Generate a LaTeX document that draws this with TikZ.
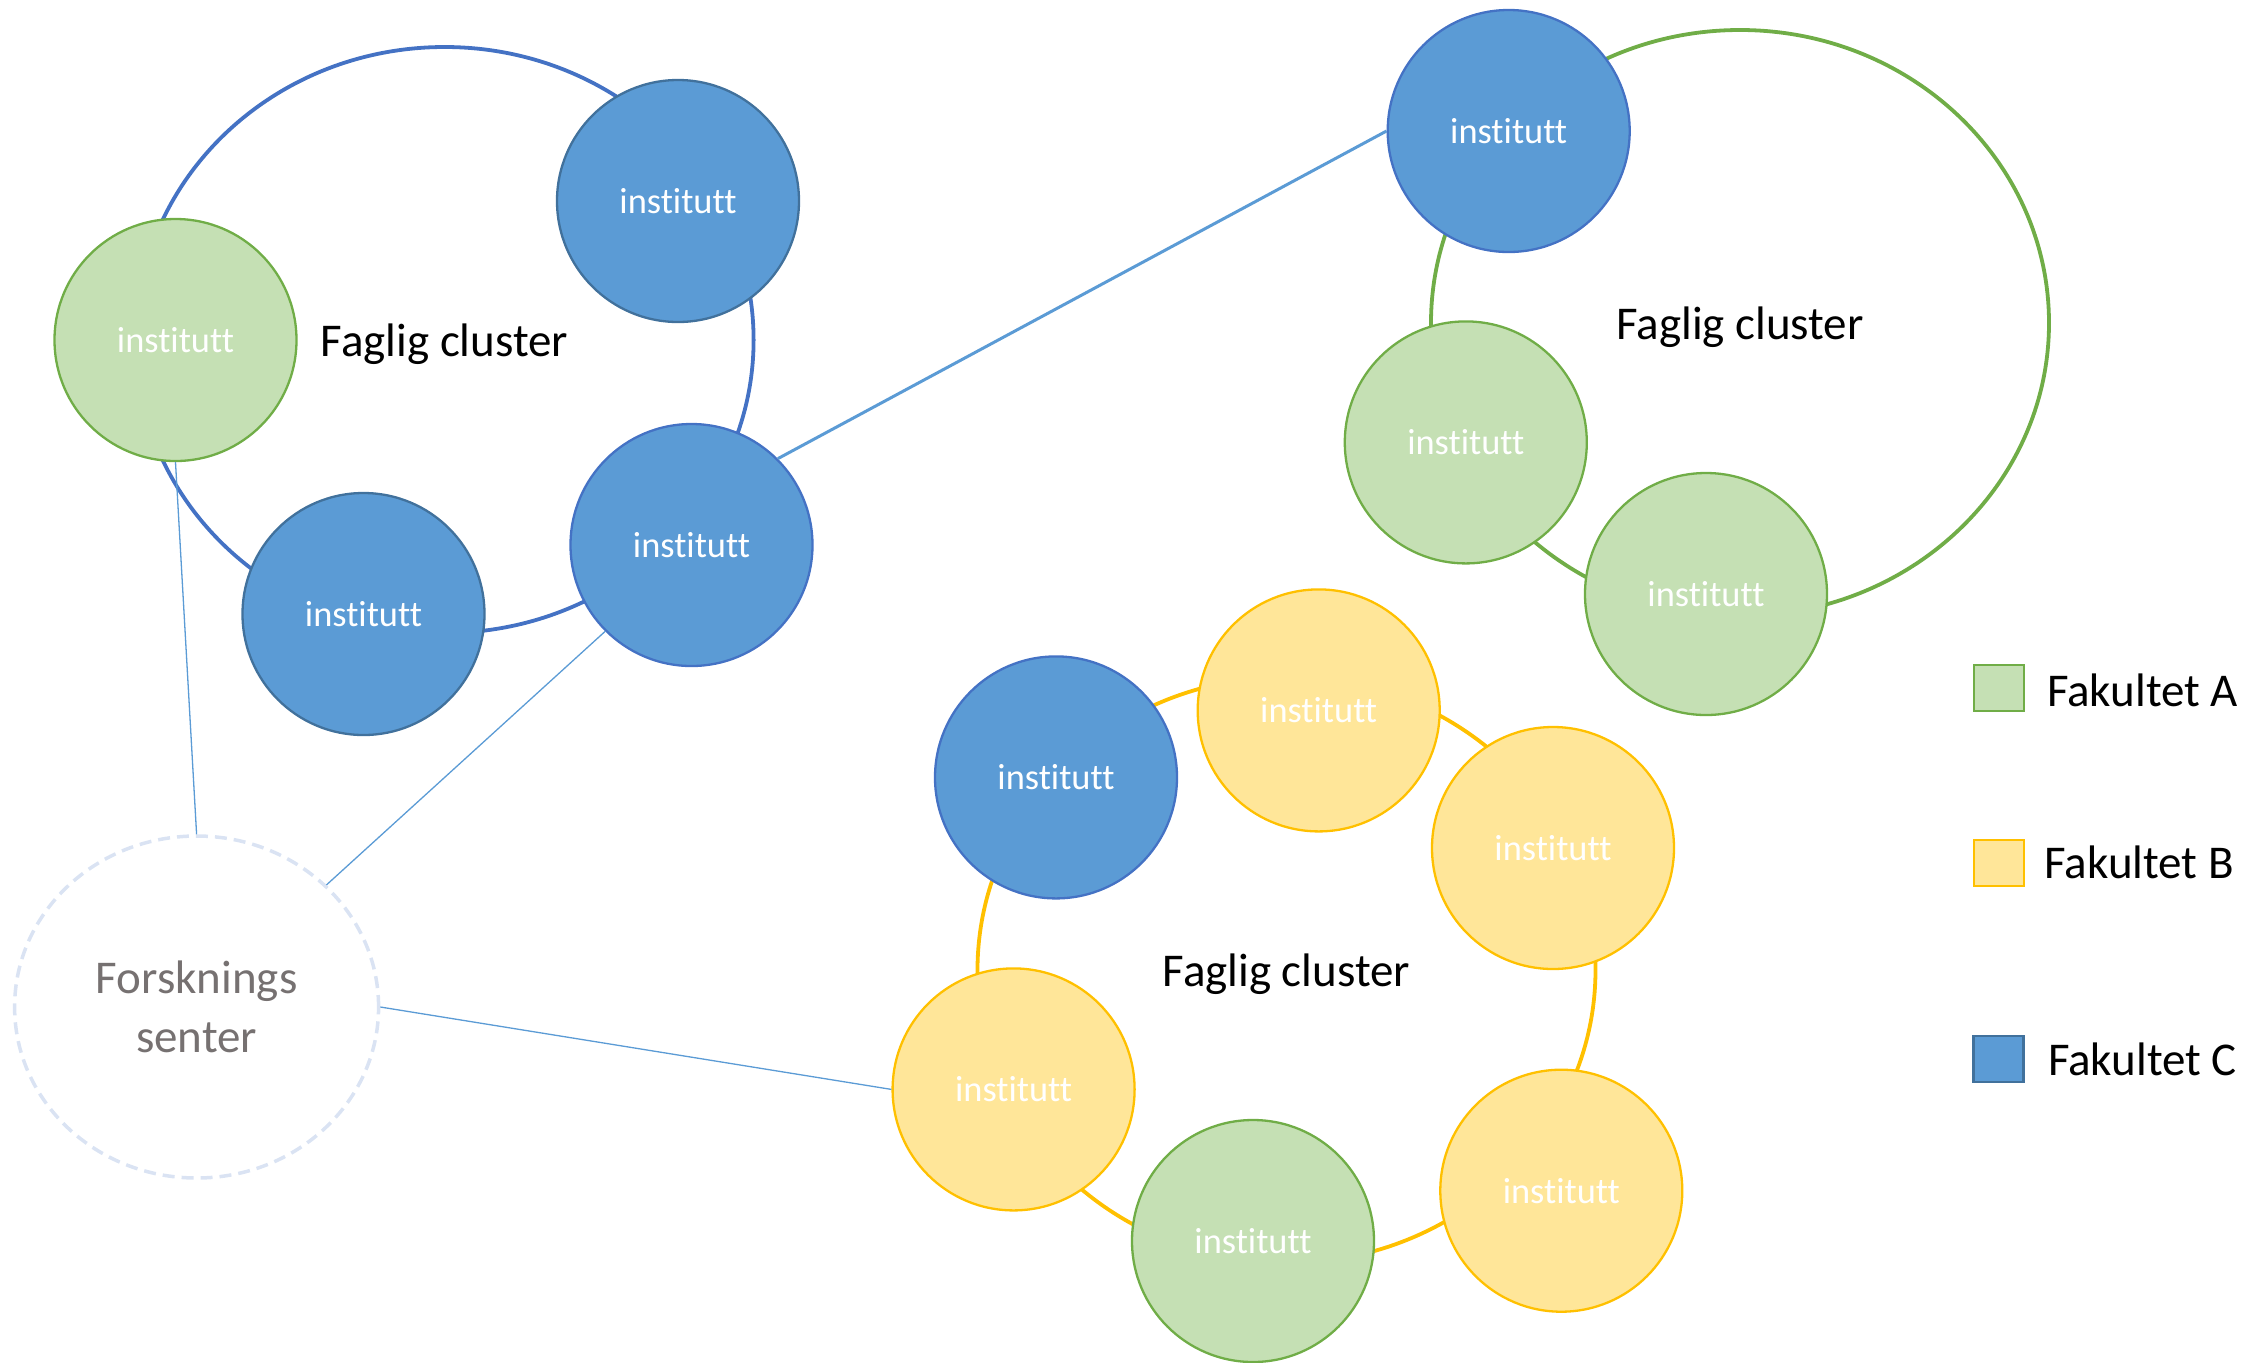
\documentclass[tikz,border=0pt]{standalone}
\usepackage{fontspec}
\setmainfont{Carlito}[Ligatures=NoCommon]
\usetikzlibrary{shapes.geometric}
\definecolor{cblue}{HTML}{5B9BD5}
\definecolor{cblueD}{HTML}{41719C}
\definecolor{cblueB}{HTML}{4472C4}
\definecolor{cgreen}{HTML}{C5E0B4}
\definecolor{cgreenD}{HTML}{70AD47}
\definecolor{cyellow}{HTML}{FFE699}
\definecolor{cyellowD}{HTML}{FFC000}
\definecolor{dashc}{HTML}{DAE3F3}
\definecolor{greytext}{HTML}{767171}
\begin{document}
\begin{tikzpicture}[x=0.5pt,y=-0.5pt,
 inst/.style={circle, minimum size=121pt, inner sep=0pt, line width=1.15pt, text=white, font=\fontsize{18.2}{22}\selectfont},
 fa/.style={inst, fill=cgreen, draw=cgreenD},
 fb/.style={inst, fill=cyellow, draw=cyellowD},
 fc/.style={inst, fill=cblue, draw=cblueD},
 fcb/.style={inst, fill=cblue, draw=cblueB},
 ring/.style={ellipse, minimum width=309pt, minimum height=293pt, inner sep=0pt, line width=1.9pt, text depth=0pt, font=\fontsize{23.5}{28}\selectfont},
 link/.style={draw=cblue, line width=0.65pt},
 biglink/.style={draw=cblue, line width=1.5pt},
 legbox/.style={rectangle, minimum width=25pt, minimum height=23pt, inner sep=0pt, line width=1.3pt},
 legtext/.style={anchor=base west, inner sep=0pt, font=\fontsize{23.5}{28}\selectfont}
]
\useasboundingbox (0,0) rectangle (2267,1362);

% cluster rings
\node[ring, draw=cblueB] (R1) at (444.6,340) {Faglig cluster};
\node[ring, draw=cgreenD] (R2) at (1740,323) {Faglig cluster};
\node[ring, draw=cyellowD] (R3) at (1286.5,970) {Faglig cluster};

% research centre
\node[ellipse, minimum width=182pt, minimum height=171pt, inner sep=0pt,
      draw=dashc, line width=1.75pt, dash pattern=on 6pt off 3.5pt,
      text=greytext, align=center, font=\fontsize{23.5}{29.4}\selectfont]
      (F) at (196.6,1007) {Forsknings\\senter};

% cluster 1
\node[fa]  (A1) at (175.5,340) {institutt};
\node[fc]  (C1) at (678,201)   {institutt};
\node[fc]  (C2) at (363.5,614) {institutt};
\node[fcb] (C3) at (691.5,545) {institutt};

% cluster 2
\node[fcb] (C4) at (1508.7,131) {institutt};
\node[fa]  (A2) at (1465.8,442.4) {institutt};
\node[fa]  (A3) at (1706,594)  {institutt};

% cluster 3
\node[fcb] (C5) at (1056,777.4)  {institutt};
\node[fb]  (B1) at (1318.7,710.4) {institutt};
\node[fb]  (B2) at (1553,848)   {institutt};
\node[fb]  (B3) at (1013.6,1089.4) {institutt};
\node[fa]  (A4) at (1253,1241)  {institutt};
\node[fb]  (B4) at (1561.3,1190.7) {institutt};

% connectors
\draw[link] (A1.south) -- (F.north);
\draw[link] (C3.south west) -- (F.north east);
\draw[link] (F.east) -- (B3.west);
\draw[biglink] (C3.north east) -- (C4.west);

% legend
\node[legbox, fill=cgreen, draw=cgreenD] (LA) at (1999,688) {};
\node[legbox, fill=cyellow, draw=cyellowD] (LB) at (1999,863) {};
\node[legbox, fill=cblue, draw=cblueD] (LC) at (1998.5,1059) {};
\node[legtext] (TA) at (2046.7,706.7) {Fakultet A};
\node[legtext] (TB) at (2044,878) {Fakultet B};
\node[legtext] (TC) at (2047.7,1075) {Fakultet C};
\end{tikzpicture}
\end{document}
